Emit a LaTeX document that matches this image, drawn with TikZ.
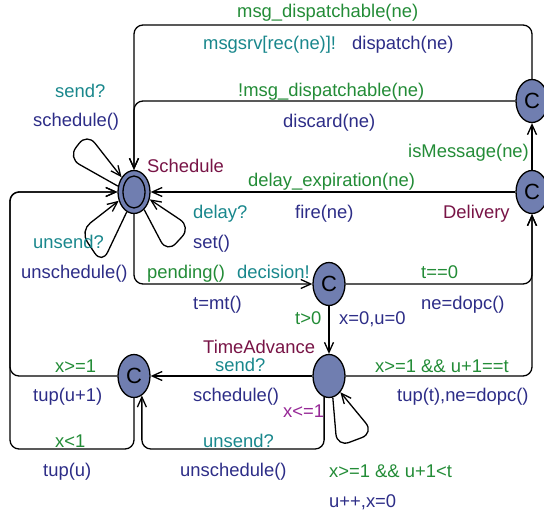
\documentclass[tikz,border=0pt]{standalone}
\usepackage{fontspec}
\setmainfont{Liberation Sans}
\usetikzlibrary{shapes.geometric,arrows.meta,calc}

\definecolor{gcol}{RGB}{35,140,55}
\definecolor{tcol}{RGB}{25,135,140}
\definecolor{ncol}{RGB}{45,45,135}
\definecolor{mcol}{RGB}{120,20,70}
\definecolor{pcol}{RGB}{150,40,150}
\definecolor{locfill}{RGB}{112,126,176}

\begin{document}
\begin{tikzpicture}[x=1pt,y=-1pt,
  font=\fontsize{18.4}{20}\selectfont,
  loc/.style={ellipse, draw, line width=1.3pt, fill=locfill, minimum width=32pt,
    minimum height=43pt, inner sep=0pt, font=\fontsize{22}{22}\selectfont},
  edge/.style={line width=1.3pt, -{Straight Barb[length=10pt,width=9pt]}, rounded corners=9pt},
  loop/.style={edge, rounded corners=13pt},
  lbl/.style={anchor=base west, inner sep=0pt},
  guard/.style={lbl, text=gcol},
  sync/.style={lbl, text=tcol},
  upd/.style={lbl, text=ncol},
  lname/.style={lbl, text=mcol},
  inv/.style={lbl, text=pcol}]

\useasboundingbox (0,0) rectangle (544,513);

% locations
\node[loc] (sched) at (134,192) {};
\node[ellipse, draw, line width=1.3pt, minimum width=22pt, minimum height=32pt, inner sep=0pt] (schedin) at (sched) {};
\node[loc] (disp) at (532,101) {C};
\node[loc] (deliv) at (532,192) {C};
\node[loc] (dec) at (329,284) {C};
\node[loc] (ta) at (329,376) {};
\node[loc] (lc) at (134,376) {C};

% routing helpers
\coordinate (top) at (0,25);
\coordinate (lx) at (10,0);
\coordinate (bot) at (0,449);

% transitions
\draw[edge] (disp.north) -- (disp.north |- top) -- (sched.north |- top) -- (sched.north);
\draw[edge] (disp.west) -- (sched.north |- disp.west) -- (sched.north);
\draw[edge] (deliv) -- (disp);
\draw[edge] (deliv) -- (sched);
\draw[edge] (sched.south) -- (sched.south |- dec.west) -- (dec.west);
\draw[edge] (dec.east) -- (deliv.south |- dec.east) -- (deliv.south);
\draw[edge] (dec) -- (ta);
\draw[edge] (ta.east) -- (deliv.south |- ta.east) -- (deliv.south);
\draw[edge] (ta) -- (lc);
\draw[edge] (ta.-103) -- (ta.-103 |- bot) -- (lc.-68 |- bot) -- (lc.-68);
\draw[edge] (lc.west) -- (lx |- lc.west) -- (lx |- sched.west) -- (sched.west);
\draw[edge] (lc.south) -- (lc.south |- bot) -- (lx |- bot) -- (lx |- sched.west) -- (sched.west);

% self loops
\draw[loop] (sched.160) -- (68,158) -- (87,133) -- (sched.130);
\draw[loop] (sched.-110) -- (102,264) -- (80,231) -- (sched.210);
\draw[loop] (sched.-60) -- (167,253) -- (191,227) -- (sched.-25);
\draw[loop] (ta.-80) -- (337,447) -- (374,433) -- (ta.-55);

% labels
\node[guard] (l1) at (237,18) {msg\_dispatchable(ne)};
\node[sync] (l2) at (203,50) {msgsrv[rec(ne)]!};
\node[upd] (l3) at (352,50) {dispatch(ne)};
\node[guard] (l4) at (238,97) {!msg\_dispatchable(ne)};
\node[upd] (l5) at (283,128) {discard(ne)};
\node[guard] (l6) at (408,158) {isMessage(ne)};
\node[sync] (l7) at (55,98) {send?};
\node[upd] (l8) at (33,127) {schedule()};
\node[lname] (l9) at (147,173) {Schedule};
\node[guard] (l10) at (248,187) {delay\_expiration(ne)};
\node[upd] (l11) at (295,219) {fire(ne)};
\node[lname] (l12) at (443,219) {Delivery};
\node[sync] (l13) at (193,219) {delay?};
\node[upd] (l14) at (193,249) {set()};
\node[sync] (l15) at (33,249) {unsend?};
\node[upd] (l16) at (21,279) {unschedule()};
\node[guard] (l17) at (147,279) {pending()};
\node[sync] (l18) at (237,279) {decision!};
\node[upd] (l19) at (193,310) {t=mt()};
\node[guard] (l20) at (421,279) {t==0};
\node[upd] (l21) at (421,310) {ne=dopc()};
\node[guard] (l22) at (295,325) {t>0};
\node[upd] (l23) at (339,325) {x=0,u=0};
\node[lname] (l24) at (203,353) {TimeAdvance};
\node[sync] (l25) at (215,371) {send?};
\node[upd] (l26) at (193,401) {schedule()};
\node[inv] (l27) at (283,417) {x<=1};
\node[guard] (l28) at (375,372) {x>=1 \&\& u+1==t};
\node[upd] (l29) at (397,401) {tup(t),ne=dopc()};
\node[guard] (l30) at (55,372) {x>=1};
\node[upd] (l31) at (33,401) {tup(u+1)};
\node[guard] (l32) at (55,447) {x<1};
\node[upd] (l33) at (43,476) {tup(u)};
\node[sync] (l34) at (203,447) {unsend?};
\node[upd] (l35) at (180,476) {unschedule()};
\node[guard] (l36) at (329,477) {x>=1 \&\& u+1<t};
\node[upd] (l37) at (329,507) {u++,x=0};
\end{tikzpicture}
\end{document}
